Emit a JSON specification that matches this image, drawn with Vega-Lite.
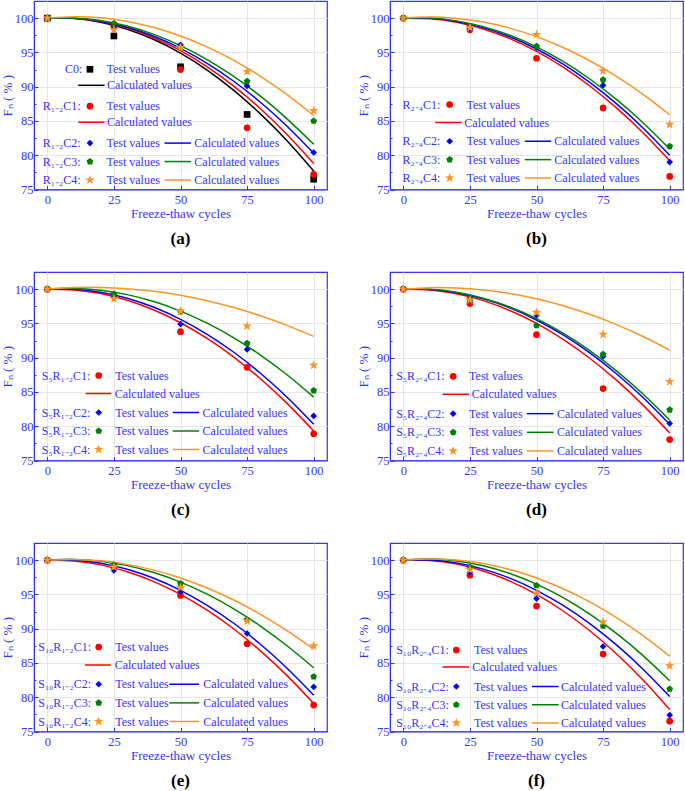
{
"$schema": "https://vega.github.io/schema/vega-lite/v6.json",
"padding": {"left": 0, "top": 0, "right": 1, "bottom": 0},
"config": {
  "font": "Liberation Serif",
  "view": {"stroke": "#3333FF", "strokeWidth": 1.2},
  "axis": {"domainColor": "#3333FF", "tickColor": "#3333FF", "labelColor": "#3333FF", "titleColor": "#3333FF", "labelFont": "Liberation Serif", "titleFont": "Liberation Serif", "labelFontSize": 12.5, "titleFontSize": 13, "titleFontWeight": "normal", "gridColor": "#e6e6e6", "tickSize": -4},
  "axisX": {"titlePadding": 1, "labelPadding": 8},
  "axisY": {"titlePadding": 0, "labelPadding": 5},
  "title": {"orient": "bottom", "font": "Liberation Serif", "fontSize": 17, "fontWeight": "bold", "color": "#000000", "offset": 11},
  "text": {"font": "Liberation Serif", "fontSize": 12, "color": "#3333FF", "baseline": "middle"}
},
"datasets": {
"test": [
{"p":"a","s":"C0","n":0,"f":100},{"p":"a","s":"C0","n":25,"f":97.4},{"p":"a","s":"C0","n":50,"f":92.9},{"p":"a","s":"C0","n":75,"f":85.95},{"p":"a","s":"C0","n":100,"f":76.5},
{"p":"a","s":"C1","n":0,"f":100},{"p":"a","s":"C1","n":25,"f":98.8},{"p":"a","s":"C1","n":50,"f":92.5},{"p":"a","s":"C1","n":75,"f":84.0},{"p":"a","s":"C1","n":100,"f":77.2},
{"p":"a","s":"C2","n":0,"f":100},{"p":"a","s":"C2","n":25,"f":98.9},{"p":"a","s":"C2","n":50,"f":96.1},{"p":"a","s":"C2","n":75,"f":90.1},{"p":"a","s":"C2","n":100,"f":80.4},
{"p":"a","s":"C3","n":0,"f":100},{"p":"a","s":"C3","n":25,"f":99.2},{"p":"a","s":"C3","n":50,"f":95.8},{"p":"a","s":"C3","n":75,"f":90.8},{"p":"a","s":"C3","n":100,"f":85.0},
{"p":"a","s":"C4","n":0,"f":100},{"p":"a","s":"C4","n":25,"f":98.3},{"p":"a","s":"C4","n":50,"f":95.7},{"p":"a","s":"C4","n":75,"f":92.2},{"p":"a","s":"C4","n":100,"f":86.5},
{"p":"b","s":"C1","n":0,"f":100},{"p":"b","s":"C1","n":25,"f":98.3},{"p":"b","s":"C1","n":50,"f":94.15},{"p":"b","s":"C1","n":75,"f":86.9},{"p":"b","s":"C1","n":100,"f":76.9},
{"p":"b","s":"C2","n":0,"f":100},{"p":"b","s":"C2","n":25,"f":98.5},{"p":"b","s":"C2","n":50,"f":95.7},{"p":"b","s":"C2","n":75,"f":90.2},{"p":"b","s":"C2","n":100,"f":79.0},
{"p":"b","s":"C3","n":0,"f":100},{"p":"b","s":"C3","n":25,"f":98.8},{"p":"b","s":"C3","n":50,"f":95.9},{"p":"b","s":"C3","n":75,"f":91.0},{"p":"b","s":"C3","n":100,"f":81.3},
{"p":"b","s":"C4","n":0,"f":100},{"p":"b","s":"C4","n":25,"f":98.6},{"p":"b","s":"C4","n":50,"f":97.6},{"p":"b","s":"C4","n":75,"f":92.3},{"p":"b","s":"C4","n":100,"f":84.5},
{"p":"c","s":"C1","n":0,"f":100},{"p":"c","s":"C1","n":25,"f":99.0},{"p":"c","s":"C1","n":50,"f":93.8},{"p":"c","s":"C1","n":75,"f":88.6},{"p":"c","s":"C1","n":100,"f":78.9},
{"p":"c","s":"C2","n":0,"f":100},{"p":"c","s":"C2","n":25,"f":99.1},{"p":"c","s":"C2","n":50,"f":94.9},{"p":"c","s":"C2","n":75,"f":91.2},{"p":"c","s":"C2","n":100,"f":81.5},
{"p":"c","s":"C3","n":0,"f":100},{"p":"c","s":"C3","n":25,"f":99.3},{"p":"c","s":"C3","n":50,"f":96.7},{"p":"c","s":"C3","n":75,"f":92.1},{"p":"c","s":"C3","n":100,"f":85.2},
{"p":"c","s":"C4","n":0,"f":100},{"p":"c","s":"C4","n":25,"f":98.6},{"p":"c","s":"C4","n":50,"f":96.8},{"p":"c","s":"C4","n":75,"f":94.6},{"p":"c","s":"C4","n":100,"f":88.9},
{"p":"d","s":"C1","n":0,"f":100},{"p":"d","s":"C1","n":25,"f":97.9},{"p":"d","s":"C1","n":50,"f":93.35},{"p":"d","s":"C1","n":75,"f":85.5},{"p":"d","s":"C1","n":100,"f":78.05},
{"p":"d","s":"C2","n":0,"f":100},{"p":"d","s":"C2","n":25,"f":98.4},{"p":"d","s":"C2","n":50,"f":96.2},{"p":"d","s":"C2","n":75,"f":90.2},{"p":"d","s":"C2","n":100,"f":80.4},
{"p":"d","s":"C3","n":0,"f":100},{"p":"d","s":"C3","n":25,"f":98.6},{"p":"d","s":"C3","n":50,"f":94.7},{"p":"d","s":"C3","n":75,"f":90.5},{"p":"d","s":"C3","n":100,"f":82.4},
{"p":"d","s":"C4","n":0,"f":100},{"p":"d","s":"C4","n":25,"f":98.4},{"p":"d","s":"C4","n":50,"f":96.6},{"p":"d","s":"C4","n":75,"f":93.4},{"p":"d","s":"C4","n":100,"f":86.5},
{"p":"e","s":"C1","n":0,"f":100},{"p":"e","s":"C1","n":25,"f":98.9},{"p":"e","s":"C1","n":50,"f":94.85},{"p":"e","s":"C1","n":75,"f":87.8},{"p":"e","s":"C1","n":100,"f":78.85},
{"p":"e","s":"C2","n":0,"f":100},{"p":"e","s":"C2","n":25,"f":98.5},{"p":"e","s":"C2","n":50,"f":95.4},{"p":"e","s":"C2","n":75,"f":89.3},{"p":"e","s":"C2","n":100,"f":81.5},
{"p":"e","s":"C3","n":0,"f":100},{"p":"e","s":"C3","n":25,"f":99.3},{"p":"e","s":"C3","n":50,"f":96.6},{"p":"e","s":"C3","n":75,"f":91.3},{"p":"e","s":"C3","n":100,"f":83.0},
{"p":"e","s":"C4","n":0,"f":100},{"p":"e","s":"C4","n":25,"f":99.0},{"p":"e","s":"C4","n":50,"f":96.0},{"p":"e","s":"C4","n":75,"f":91.1},{"p":"e","s":"C4","n":100,"f":87.5},
{"p":"f","s":"C1","n":0,"f":100},{"p":"f","s":"C1","n":25,"f":97.8},{"p":"f","s":"C1","n":50,"f":93.3},{"p":"f","s":"C1","n":75,"f":86.3},{"p":"f","s":"C1","n":100,"f":76.5},
{"p":"f","s":"C2","n":0,"f":100},{"p":"f","s":"C2","n":25,"f":98.2},{"p":"f","s":"C2","n":50,"f":94.4},{"p":"f","s":"C2","n":75,"f":87.4},{"p":"f","s":"C2","n":100,"f":77.4},
{"p":"f","s":"C3","n":0,"f":100},{"p":"f","s":"C3","n":25,"f":99.0},{"p":"f","s":"C3","n":50,"f":96.3},{"p":"f","s":"C3","n":75,"f":90.4},{"p":"f","s":"C3","n":100,"f":81.2},
{"p":"f","s":"C4","n":0,"f":100},{"p":"f","s":"C4","n":25,"f":98.6},{"p":"f","s":"C4","n":50,"f":95.2},{"p":"f","s":"C4","n":75,"f":91.0},{"p":"f","s":"C4","n":100,"f":84.6}
],
"calc": [
{"p":"a","s":"C0","n":0,"f":100},{"p":"a","s":"C0","n":10,"f":99.95},{"p":"a","s":"C0","n":20,"f":99.41},{"p":"a","s":"C0","n":30,"f":98.39},{"p":"a","s":"C0","n":40,"f":96.89},{"p":"a","s":"C0","n":50,"f":94.9},{"p":"a","s":"C0","n":60,"f":92.43},{"p":"a","s":"C0","n":70,"f":89.47},{"p":"a","s":"C0","n":80,"f":86.03},{"p":"a","s":"C0","n":90,"f":82.11},{"p":"a","s":"C0","n":100,"f":77.7},
{"p":"a","s":"C1","n":0,"f":100},{"p":"a","s":"C1","n":10,"f":99.99},{"p":"a","s":"C1","n":20,"f":99.5},{"p":"a","s":"C1","n":30,"f":98.55},{"p":"a","s":"C1","n":40,"f":97.14},{"p":"a","s":"C1","n":50,"f":95.25},{"p":"a","s":"C1","n":60,"f":92.9},{"p":"a","s":"C1","n":70,"f":90.07},{"p":"a","s":"C1","n":80,"f":86.78},{"p":"a","s":"C1","n":90,"f":83.03},{"p":"a","s":"C1","n":100,"f":78.8},
{"p":"a","s":"C2","n":0,"f":100},{"p":"a","s":"C2","n":10,"f":99.99},{"p":"a","s":"C2","n":20,"f":99.55},{"p":"a","s":"C2","n":30,"f":98.67},{"p":"a","s":"C2","n":40,"f":97.35},{"p":"a","s":"C2","n":50,"f":95.6},{"p":"a","s":"C2","n":60,"f":93.41},{"p":"a","s":"C2","n":70,"f":90.79},{"p":"a","s":"C2","n":80,"f":87.73},{"p":"a","s":"C2","n":90,"f":84.23},{"p":"a","s":"C2","n":100,"f":80.3},
{"p":"a","s":"C3","n":0,"f":100},{"p":"a","s":"C3","n":10,"f":100.03},{"p":"a","s":"C3","n":20,"f":99.65},{"p":"a","s":"C3","n":30,"f":98.85},{"p":"a","s":"C3","n":40,"f":97.63},{"p":"a","s":"C3","n":50,"f":96.0},{"p":"a","s":"C3","n":60,"f":93.95},{"p":"a","s":"C3","n":70,"f":91.49},{"p":"a","s":"C3","n":80,"f":88.61},{"p":"a","s":"C3","n":90,"f":85.31},{"p":"a","s":"C3","n":100,"f":81.6},
{"p":"a","s":"C4","n":0,"f":100},{"p":"a","s":"C4","n":10,"f":100.2},{"p":"a","s":"C4","n":20,"f":100.04},{"p":"a","s":"C4","n":30,"f":99.52},{"p":"a","s":"C4","n":40,"f":98.64},{"p":"a","s":"C4","n":50,"f":97.4},{"p":"a","s":"C4","n":60,"f":95.8},{"p":"a","s":"C4","n":70,"f":93.84},{"p":"a","s":"C4","n":80,"f":91.52},{"p":"a","s":"C4","n":90,"f":88.84},{"p":"a","s":"C4","n":100,"f":85.8},
{"p":"b","s":"C1","n":0,"f":100},{"p":"b","s":"C1","n":10,"f":99.92},{"p":"b","s":"C1","n":20,"f":99.39},{"p":"b","s":"C1","n":30,"f":98.42},{"p":"b","s":"C1","n":40,"f":97.01},{"p":"b","s":"C1","n":50,"f":95.15},{"p":"b","s":"C1","n":60,"f":92.85},{"p":"b","s":"C1","n":70,"f":90.1},{"p":"b","s":"C1","n":80,"f":86.91},{"p":"b","s":"C1","n":90,"f":83.28},{"p":"b","s":"C1","n":100,"f":79.2},
{"p":"b","s":"C2","n":0,"f":100},{"p":"b","s":"C2","n":10,"f":99.98},{"p":"b","s":"C2","n":20,"f":99.52},{"p":"b","s":"C2","n":30,"f":98.62},{"p":"b","s":"C2","n":40,"f":97.28},{"p":"b","s":"C2","n":50,"f":95.5},{"p":"b","s":"C2","n":60,"f":93.28},{"p":"b","s":"C2","n":70,"f":90.62},{"p":"b","s":"C2","n":80,"f":87.52},{"p":"b","s":"C2","n":90,"f":83.98},{"p":"b","s":"C2","n":100,"f":80.0},
{"p":"b","s":"C3","n":0,"f":100},{"p":"b","s":"C3","n":10,"f":100.02},{"p":"b","s":"C3","n":20,"f":99.6},{"p":"b","s":"C3","n":30,"f":98.76},{"p":"b","s":"C3","n":40,"f":97.5},{"p":"b","s":"C3","n":50,"f":95.8},{"p":"b","s":"C3","n":60,"f":93.68},{"p":"b","s":"C3","n":70,"f":91.12},{"p":"b","s":"C3","n":80,"f":88.14},{"p":"b","s":"C3","n":90,"f":84.74},{"p":"b","s":"C3","n":100,"f":80.9},
{"p":"b","s":"C4","n":0,"f":100},{"p":"b","s":"C4","n":10,"f":100.16},{"p":"b","s":"C4","n":20,"f":99.96},{"p":"b","s":"C4","n":30,"f":99.42},{"p":"b","s":"C4","n":40,"f":98.54},{"p":"b","s":"C4","n":50,"f":97.3},{"p":"b","s":"C4","n":60,"f":95.72},{"p":"b","s":"C4","n":70,"f":93.78},{"p":"b","s":"C4","n":80,"f":91.5},{"p":"b","s":"C4","n":90,"f":88.88},{"p":"b","s":"C4","n":100,"f":85.9},
{"p":"c","s":"C1","n":0,"f":100},{"p":"c","s":"C1","n":10,"f":99.89},{"p":"c","s":"C1","n":20,"f":99.35},{"p":"c","s":"C1","n":30,"f":98.37},{"p":"c","s":"C1","n":40,"f":96.95},{"p":"c","s":"C1","n":50,"f":95.1},{"p":"c","s":"C1","n":60,"f":92.81},{"p":"c","s":"C1","n":70,"f":90.09},{"p":"c","s":"C1","n":80,"f":86.93},{"p":"c","s":"C1","n":90,"f":83.33},{"p":"c","s":"C1","n":100,"f":79.3},
{"p":"c","s":"C2","n":0,"f":100},{"p":"c","s":"C2","n":10,"f":99.99},{"p":"c","s":"C2","n":20,"f":99.55},{"p":"c","s":"C2","n":30,"f":98.67},{"p":"c","s":"C2","n":40,"f":97.35},{"p":"c","s":"C2","n":50,"f":95.6},{"p":"c","s":"C2","n":60,"f":93.41},{"p":"c","s":"C2","n":70,"f":90.79},{"p":"c","s":"C2","n":80,"f":87.73},{"p":"c","s":"C2","n":90,"f":84.23},{"p":"c","s":"C2","n":100,"f":80.3},
{"p":"c","s":"C3","n":0,"f":100},{"p":"c","s":"C3","n":10,"f":100.11},{"p":"c","s":"C3","n":20,"f":99.84},{"p":"c","s":"C3","n":30,"f":99.2},{"p":"c","s":"C3","n":40,"f":98.19},{"p":"c","s":"C3","n":50,"f":96.8},{"p":"c","s":"C3","n":60,"f":95.04},{"p":"c","s":"C3","n":70,"f":92.9},{"p":"c","s":"C3","n":80,"f":90.39},{"p":"c","s":"C3","n":90,"f":87.51},{"p":"c","s":"C3","n":100,"f":84.25},
{"p":"c","s":"C4","n":0,"f":100},{"p":"c","s":"C4","n":10,"f":100.23},{"p":"c","s":"C4","n":20,"f":100.25},{"p":"c","s":"C4","n":30,"f":100.07},{"p":"c","s":"C4","n":40,"f":99.69},{"p":"c","s":"C4","n":50,"f":99.1},{"p":"c","s":"C4","n":60,"f":98.31},{"p":"c","s":"C4","n":70,"f":97.31},{"p":"c","s":"C4","n":80,"f":96.11},{"p":"c","s":"C4","n":90,"f":94.71},{"p":"c","s":"C4","n":100,"f":93.1},
{"p":"d","s":"C1","n":0,"f":100},{"p":"d","s":"C1","n":10,"f":99.88},{"p":"d","s":"C1","n":20,"f":99.32},{"p":"d","s":"C1","n":30,"f":98.32},{"p":"d","s":"C1","n":40,"f":96.88},{"p":"d","s":"C1","n":50,"f":95.0},{"p":"d","s":"C1","n":60,"f":92.68},{"p":"d","s":"C1","n":70,"f":89.92},{"p":"d","s":"C1","n":80,"f":86.72},{"p":"d","s":"C1","n":90,"f":83.08},{"p":"d","s":"C1","n":100,"f":79.0},
{"p":"d","s":"C2","n":0,"f":100},{"p":"d","s":"C2","n":10,"f":99.96},{"p":"d","s":"C2","n":20,"f":99.48},{"p":"d","s":"C2","n":30,"f":98.58},{"p":"d","s":"C2","n":40,"f":97.26},{"p":"d","s":"C2","n":50,"f":95.5},{"p":"d","s":"C2","n":60,"f":93.32},{"p":"d","s":"C2","n":70,"f":90.7},{"p":"d","s":"C2","n":80,"f":87.66},{"p":"d","s":"C2","n":90,"f":84.2},{"p":"d","s":"C2","n":100,"f":80.3},
{"p":"d","s":"C3","n":0,"f":100},{"p":"d","s":"C3","n":10,"f":99.98},{"p":"d","s":"C3","n":20,"f":99.54},{"p":"d","s":"C3","n":30,"f":98.68},{"p":"d","s":"C3","n":40,"f":97.4},{"p":"d","s":"C3","n":50,"f":95.7},{"p":"d","s":"C3","n":60,"f":93.58},{"p":"d","s":"C3","n":70,"f":91.04},{"p":"d","s":"C3","n":80,"f":88.08},{"p":"d","s":"C3","n":90,"f":84.7},{"p":"d","s":"C3","n":100,"f":80.9},
{"p":"d","s":"C4","n":0,"f":100},{"p":"d","s":"C4","n":10,"f":100.21},{"p":"d","s":"C4","n":20,"f":100.17},{"p":"d","s":"C4","n":30,"f":99.89},{"p":"d","s":"C4","n":40,"f":99.37},{"p":"d","s":"C4","n":50,"f":98.6},{"p":"d","s":"C4","n":60,"f":97.59},{"p":"d","s":"C4","n":70,"f":96.33},{"p":"d","s":"C4","n":80,"f":94.83},{"p":"d","s":"C4","n":90,"f":93.09},{"p":"d","s":"C4","n":100,"f":91.1},
{"p":"e","s":"C1","n":0,"f":100},{"p":"e","s":"C1","n":10,"f":99.87},{"p":"e","s":"C1","n":20,"f":99.31},{"p":"e","s":"C1","n":30,"f":98.31},{"p":"e","s":"C1","n":40,"f":96.87},{"p":"e","s":"C1","n":50,"f":95.0},{"p":"e","s":"C1","n":60,"f":92.69},{"p":"e","s":"C1","n":70,"f":89.95},{"p":"e","s":"C1","n":80,"f":86.77},{"p":"e","s":"C1","n":90,"f":83.15},{"p":"e","s":"C1","n":100,"f":79.1},
{"p":"e","s":"C2","n":0,"f":100},{"p":"e","s":"C2","n":10,"f":99.99},{"p":"e","s":"C2","n":20,"f":99.55},{"p":"e","s":"C2","n":30,"f":98.67},{"p":"e","s":"C2","n":40,"f":97.35},{"p":"e","s":"C2","n":50,"f":95.6},{"p":"e","s":"C2","n":60,"f":93.41},{"p":"e","s":"C2","n":70,"f":90.79},{"p":"e","s":"C2","n":80,"f":87.73},{"p":"e","s":"C2","n":90,"f":84.23},{"p":"e","s":"C2","n":100,"f":80.3},
{"p":"e","s":"C3","n":0,"f":100},{"p":"e","s":"C3","n":10,"f":100.11},{"p":"e","s":"C3","n":20,"f":99.84},{"p":"e","s":"C3","n":30,"f":99.2},{"p":"e","s":"C3","n":40,"f":98.19},{"p":"e","s":"C3","n":50,"f":96.8},{"p":"e","s":"C3","n":60,"f":95.04},{"p":"e","s":"C3","n":70,"f":92.9},{"p":"e","s":"C3","n":80,"f":90.39},{"p":"e","s":"C3","n":90,"f":87.51},{"p":"e","s":"C3","n":100,"f":84.3},
{"p":"e","s":"C4","n":0,"f":100},{"p":"e","s":"C4","n":10,"f":100.1},{"p":"e","s":"C4","n":20,"f":99.9},{"p":"e","s":"C4","n":30,"f":99.38},{"p":"e","s":"C4","n":40,"f":98.54},{"p":"e","s":"C4","n":50,"f":97.4},{"p":"e","s":"C4","n":60,"f":95.94},{"p":"e","s":"C4","n":70,"f":94.18},{"p":"e","s":"C4","n":80,"f":92.1},{"p":"e","s":"C4","n":90,"f":89.7},{"p":"e","s":"C4","n":100,"f":87.0},
{"p":"f","s":"C1","n":0,"f":100},{"p":"f","s":"C1","n":10,"f":99.94},{"p":"f","s":"C1","n":20,"f":99.42},{"p":"f","s":"C1","n":30,"f":98.42},{"p":"f","s":"C1","n":40,"f":96.94},{"p":"f","s":"C1","n":50,"f":95.0},{"p":"f","s":"C1","n":60,"f":92.58},{"p":"f","s":"C1","n":70,"f":89.7},{"p":"f","s":"C1","n":80,"f":86.34},{"p":"f","s":"C1","n":90,"f":82.5},{"p":"f","s":"C1","n":100,"f":78.2},
{"p":"f","s":"C2","n":0,"f":100},{"p":"f","s":"C2","n":10,"f":100.01},{"p":"f","s":"C2","n":20,"f":99.57},{"p":"f","s":"C2","n":30,"f":98.69},{"p":"f","s":"C2","n":40,"f":97.37},{"p":"f","s":"C2","n":50,"f":95.6},{"p":"f","s":"C2","n":60,"f":93.39},{"p":"f","s":"C2","n":70,"f":90.73},{"p":"f","s":"C2","n":80,"f":87.63},{"p":"f","s":"C2","n":90,"f":84.09},{"p":"f","s":"C2","n":100,"f":80.1},
{"p":"f","s":"C3","n":0,"f":100},{"p":"f","s":"C3","n":10,"f":100.15},{"p":"f","s":"C3","n":20,"f":99.87},{"p":"f","s":"C3","n":30,"f":99.17},{"p":"f","s":"C3","n":40,"f":98.05},{"p":"f","s":"C3","n":50,"f":96.5},{"p":"f","s":"C3","n":60,"f":94.53},{"p":"f","s":"C3","n":70,"f":92.13},{"p":"f","s":"C3","n":80,"f":89.31},{"p":"f","s":"C3","n":90,"f":86.07},{"p":"f","s":"C3","n":100,"f":82.4},
{"p":"f","s":"C4","n":0,"f":100},{"p":"f","s":"C4","n":10,"f":100.18},{"p":"f","s":"C4","n":20,"f":100.02},{"p":"f","s":"C4","n":30,"f":99.5},{"p":"f","s":"C4","n":40,"f":98.62},{"p":"f","s":"C4","n":50,"f":97.4},{"p":"f","s":"C4","n":60,"f":95.82},{"p":"f","s":"C4","n":70,"f":93.9},{"p":"f","s":"C4","n":80,"f":91.62},{"p":"f","s":"C4","n":90,"f":88.98},{"p":"f","s":"C4","n":100,"f":86.0}
],
"leg": [
{"p":"a","s":"C0","label":"C0:"},{"p":"a","s":"C1","label":"R₁₋₂C1:"},{"p":"a","s":"C2","label":"R₁₋₂C2:"},{"p":"a","s":"C3","label":"R₁₋₂C3:"},{"p":"a","s":"C4","label":"R₁₋₂C4:"},
{"p":"b","s":"C1","label":"R₂₋₄C1:"},{"p":"b","s":"C2","label":"R₂₋₄C2:"},{"p":"b","s":"C3","label":"R₂₋₄C3:"},{"p":"b","s":"C4","label":"R₂₋₄C4:"},
{"p":"c","s":"C1","label":"S₅R₁₋₂C1:"},{"p":"c","s":"C2","label":"S₅R₁₋₂C2:"},{"p":"c","s":"C3","label":"S₅R₁₋₂C3:"},{"p":"c","s":"C4","label":"S₅R₁₋₂C4:"},
{"p":"d","s":"C1","label":"S₅R₂₋₄C1:"},{"p":"d","s":"C2","label":"S₅R₂₋₄C2:"},{"p":"d","s":"C3","label":"S₅R₂₋₄C3:"},{"p":"d","s":"C4","label":"S₅R₂₋₄C4:"},
{"p":"e","s":"C1","label":"S₁₀R₁₋₂C1:"},{"p":"e","s":"C2","label":"S₁₀R₁₋₂C2:"},{"p":"e","s":"C3","label":"S₁₀R₁₋₂C3:"},{"p":"e","s":"C4","label":"S₁₀R₁₋₂C4:"},
{"p":"f","s":"C1","label":"S₁₀R₂₋₄C1:"},{"p":"f","s":"C2","label":"S₁₀R₂₋₄C2:"},{"p":"f","s":"C3","label":"S₁₀R₂₋₄C3:"},{"p":"f","s":"C4","label":"S₁₀R₂₋₄C4:"}
]
},
"spacing": 23,
"vconcat": [
{"spacing": 28, "hconcat": [
{"width": 293, "height": 188.5, "title": {"text": "(a)"}, "resolve": {"scale": {"y": "independent"}},
 "layer": [
  {"encoding": {
     "x": {"field": "n", "type": "quantitative", "scale": {"domain": [-5, 105], "nice": false, "zero": false}, "axis": {"values": [0, 12.5, 25, 37.5, 50, 62.5, 75, 87.5, 100], "labelExpr": "datum.value % 25 === 0 ? datum.label : ''", "tickSize": {"condition": {"test": "datum.value % 25 !== 0", "value": -2}, "value": -4}, "gridOpacity": {"condition": {"test": "datum.value % 25 !== 0", "value": 0}, "value": 1}, "title": "Freeze-thaw cycles"}},
     "y": {"field": "f", "type": "quantitative", "scale": {"domain": [75, 102.5], "nice": false, "zero": false}, "axis": {"values": [75, 77.5, 80, 82.5, 85, 87.5, 90, 92.5, 95, 97.5, 100], "labelExpr": "datum.value % 5 === 0 ? datum.label : ''", "tickSize": {"condition": {"test": "datum.value % 5 !== 0", "value": -2}, "value": -4}, "gridOpacity": {"condition": {"test": "datum.value % 5 !== 0", "value": 0}, "value": 1}, "title": "Fₙ ( % )"}},
     "color": {"field": "s", "type": "nominal", "scale": {"domain": ["C0","C1","C2","C3","C4"], "range": ["#000000","#FF0000","#0000FF","#008000","#FF9326"]}, "legend": null}},
   "layer": [
    {"data": {"name": "calc"}, "transform": [{"filter": "datum.p === 'a'"}], "mark": {"type": "line", "interpolate": "natural", "strokeWidth": 1.5}},
    {"data": {"name": "test"}, "transform": [{"filter": "datum.p === 'a'"}], "mark": {"type": "point", "filled": true, "opacity": 1, "size": 45},
     "encoding": {"shape": {"field": "s", "type": "nominal", "scale": {"domain": ["C0","C1","C2","C3","C4"], "range": ["square","circle","diamond","M0,-1.05L1,-0.32L0.62,0.85L-0.62,0.85L-1,-0.32Z","M0,-1.5L0.353,-0.485L1.427,-0.464L0.571,0.185L0.882,1.214L0,0.6L-0.882,1.214L-0.571,0.185L-1.427,-0.464L-0.353,-0.485Z"]}, "legend": null}}}
   ]},
  {"data": {"name": "leg"}, "transform": [{"filter": "datum.p === 'a'"}],
   "encoding": {"y": {"field": "s", "type": "nominal", "scale": {"type": "point", "padding": 0, "domain": ["C0","C0x","C1","C1x","C2","C3","C4"], "range": [68.3, 179]}, "axis": null}},
   "layer": [
    {"transform": [{"filter": "datum.s !== 'C0'"}], "mark": {"type": "text", "align": "left"}, "encoding": {"x": {"datum": -1.7}, "text": {"field": "label"}}},
    {"transform": [{"filter": "datum.s === 'C0'"}], "mark": {"type": "text", "align": "left"}, "encoding": {"x": {"datum": 6.6}, "text": {"field": "label"}}},
    {"mark": {"type": "point", "filled": true, "opacity": 1, "size": 45}, "encoding": {"x": {"datum": 16.0},
      "color": {"field": "s", "type": "nominal", "scale": {"domain": ["C0","C1","C2","C3","C4"], "range": ["#000000","#FF0000","#0000FF","#008000","#FF9326"]}, "legend": null},
      "shape": {"field": "s", "type": "nominal", "scale": {"domain": ["C0","C1","C2","C3","C4"], "range": ["square","circle","diamond","M0,-1.05L1,-0.32L0.62,0.85L-0.62,0.85L-1,-0.32Z","M0,-1.5L0.353,-0.485L1.427,-0.464L0.571,0.185L0.882,1.214L0,0.6L-0.882,1.214L-0.571,0.185L-1.427,-0.464L-0.353,-0.485Z"]}, "legend": null}}},
    {"mark": {"type": "text", "align": "left", "text": "Test values"}, "encoding": {"x": {"datum": 22.2}}},
    {"transform": [{"filter": "datum.s === 'C0' || datum.s === 'C1'"}], "mark": {"type": "rule", "yOffset": 16, "strokeWidth": 1.5}, "encoding": {"x": {"datum": 11.6}, "x2": {"datum": 21.5}, "color": {"field": "s", "type": "nominal", "scale": {"domain": ["C0","C1","C2","C3","C4"], "range": ["#000000","#FF0000","#0000FF","#008000","#FF9326"]}, "legend": null}}},
    {"transform": [{"filter": "datum.s === 'C0' || datum.s === 'C1'"}], "mark": {"type": "text", "align": "left", "text": "Calculated values", "yOffset": 16}, "encoding": {"x": {"datum": 22.4}}},
    {"transform": [{"filter": "datum.s === 'C2' || datum.s === 'C3' || datum.s === 'C4'"}], "mark": {"type": "rule", "strokeWidth": 1.5}, "encoding": {"x": {"datum": 44.0}, "x2": {"datum": 53.9}, "color": {"field": "s", "type": "nominal", "scale": {"domain": ["C0","C1","C2","C3","C4"], "range": ["#000000","#FF0000","#0000FF","#008000","#FF9326"]}, "legend": null}}},
    {"transform": [{"filter": "datum.s === 'C2' || datum.s === 'C3' || datum.s === 'C4'"}], "mark": {"type": "text", "align": "left", "text": "Calculated values"}, "encoding": {"x": {"datum": 55.2}}}
   ]}
 ]},
{"width": 293, "height": 188.5, "title": {"text": "(b)"}, "resolve": {"scale": {"y": "independent"}},
 "layer": [
  {"encoding": {
     "x": {"field": "n", "type": "quantitative", "scale": {"domain": [-5, 105], "nice": false, "zero": false}, "axis": {"values": [0, 12.5, 25, 37.5, 50, 62.5, 75, 87.5, 100], "labelExpr": "datum.value % 25 === 0 ? datum.label : ''", "tickSize": {"condition": {"test": "datum.value % 25 !== 0", "value": -2}, "value": -4}, "gridOpacity": {"condition": {"test": "datum.value % 25 !== 0", "value": 0}, "value": 1}, "title": "Freeze-thaw cycles"}},
     "y": {"field": "f", "type": "quantitative", "scale": {"domain": [75, 102.5], "nice": false, "zero": false}, "axis": {"values": [75, 77.5, 80, 82.5, 85, 87.5, 90, 92.5, 95, 97.5, 100], "labelExpr": "datum.value % 5 === 0 ? datum.label : ''", "tickSize": {"condition": {"test": "datum.value % 5 !== 0", "value": -2}, "value": -4}, "gridOpacity": {"condition": {"test": "datum.value % 5 !== 0", "value": 0}, "value": 1}, "title": "Fₙ ( % )"}},
     "color": {"field": "s", "type": "nominal", "scale": {"domain": ["C0","C1","C2","C3","C4"], "range": ["#000000","#FF0000","#0000FF","#008000","#FF9326"]}, "legend": null}},
   "layer": [
    {"data": {"name": "calc"}, "transform": [{"filter": "datum.p === 'b'"}], "mark": {"type": "line", "interpolate": "natural", "strokeWidth": 1.5}},
    {"data": {"name": "test"}, "transform": [{"filter": "datum.p === 'b'"}], "mark": {"type": "point", "filled": true, "opacity": 1, "size": 45},
     "encoding": {"shape": {"field": "s", "type": "nominal", "scale": {"domain": ["C0","C1","C2","C3","C4"], "range": ["square","circle","diamond","M0,-1.05L1,-0.32L0.62,0.85L-0.62,0.85L-1,-0.32Z","M0,-1.5L0.353,-0.485L1.427,-0.464L0.571,0.185L0.882,1.214L0,0.6L-0.882,1.214L-0.571,0.185L-1.427,-0.464L-0.353,-0.485Z"]}, "legend": null}}}
   ]},
  {"data": {"name": "leg"}, "transform": [{"filter": "datum.p === 'b'"}],
   "encoding": {"y": {"field": "s", "type": "nominal", "scale": {"type": "point", "padding": 0, "domain": ["C1","C1x","C2","C3","C4"], "range": [103.5, 177]}, "axis": null}},
   "layer": [
    {"mark": {"type": "text", "align": "left"}, "encoding": {"x": {"datum": -0.3}, "text": {"field": "label"}}},
    {"mark": {"type": "point", "filled": true, "opacity": 1, "size": 45}, "encoding": {"x": {"datum": 17.4},
      "color": {"field": "s", "type": "nominal", "scale": {"domain": ["C0","C1","C2","C3","C4"], "range": ["#000000","#FF0000","#0000FF","#008000","#FF9326"]}, "legend": null},
      "shape": {"field": "s", "type": "nominal", "scale": {"domain": ["C0","C1","C2","C3","C4"], "range": ["square","circle","diamond","M0,-1.05L1,-0.32L0.62,0.85L-0.62,0.85L-1,-0.32Z","M0,-1.5L0.353,-0.485L1.427,-0.464L0.571,0.185L0.882,1.214L0,0.6L-0.882,1.214L-0.571,0.185L-1.427,-0.464L-0.353,-0.485Z"]}, "legend": null}}},
    {"mark": {"type": "text", "align": "left", "text": "Test values"}, "encoding": {"x": {"datum": 23.7}}},
    {"transform": [{"filter": "datum.s === 'C1'"}], "mark": {"type": "rule", "yOffset": 18, "strokeWidth": 1.5}, "encoding": {"x": {"datum": 12.0}, "x2": {"datum": 21.9}, "color": {"field": "s", "type": "nominal", "scale": {"domain": ["C0","C1","C2","C3","C4"], "range": ["#000000","#FF0000","#0000FF","#008000","#FF9326"]}, "legend": null}}},
    {"transform": [{"filter": "datum.s === 'C1'"}], "mark": {"type": "text", "align": "left", "text": "Calculated values", "yOffset": 18}, "encoding": {"x": {"datum": 22.9}}},
    {"transform": [{"filter": "datum.s !== 'C1'"}], "mark": {"type": "rule", "strokeWidth": 1.5}, "encoding": {"x": {"datum": 45.6}, "x2": {"datum": 55.5}, "color": {"field": "s", "type": "nominal", "scale": {"domain": ["C0","C1","C2","C3","C4"], "range": ["#000000","#FF0000","#0000FF","#008000","#FF9326"]}, "legend": null}}},
    {"transform": [{"filter": "datum.s !== 'C1'"}], "mark": {"type": "text", "align": "left", "text": "Calculated values"}, "encoding": {"x": {"datum": 56.7}}}
   ]}
 ]}
]},
{"spacing": 28, "hconcat": [
{"width": 293, "height": 188.5, "title": {"text": "(c)"}, "resolve": {"scale": {"y": "independent"}},
 "layer": [
  {"encoding": {
     "x": {"field": "n", "type": "quantitative", "scale": {"domain": [-5, 105], "nice": false, "zero": false}, "axis": {"values": [0, 12.5, 25, 37.5, 50, 62.5, 75, 87.5, 100], "labelExpr": "datum.value % 25 === 0 ? datum.label : ''", "tickSize": {"condition": {"test": "datum.value % 25 !== 0", "value": -2}, "value": -4}, "gridOpacity": {"condition": {"test": "datum.value % 25 !== 0", "value": 0}, "value": 1}, "title": "Freeze-thaw cycles"}},
     "y": {"field": "f", "type": "quantitative", "scale": {"domain": [75, 102.5], "nice": false, "zero": false}, "axis": {"values": [75, 77.5, 80, 82.5, 85, 87.5, 90, 92.5, 95, 97.5, 100], "labelExpr": "datum.value % 5 === 0 ? datum.label : ''", "tickSize": {"condition": {"test": "datum.value % 5 !== 0", "value": -2}, "value": -4}, "gridOpacity": {"condition": {"test": "datum.value % 5 !== 0", "value": 0}, "value": 1}, "title": "Fₙ ( % )"}},
     "color": {"field": "s", "type": "nominal", "scale": {"domain": ["C0","C1","C2","C3","C4"], "range": ["#000000","#FF0000","#0000FF","#008000","#FF9326"]}, "legend": null}},
   "layer": [
    {"data": {"name": "calc"}, "transform": [{"filter": "datum.p === 'c'"}], "mark": {"type": "line", "interpolate": "natural", "strokeWidth": 1.5}},
    {"data": {"name": "test"}, "transform": [{"filter": "datum.p === 'c'"}], "mark": {"type": "point", "filled": true, "opacity": 1, "size": 45},
     "encoding": {"shape": {"field": "s", "type": "nominal", "scale": {"domain": ["C0","C1","C2","C3","C4"], "range": ["square","circle","diamond","M0,-1.05L1,-0.32L0.62,0.85L-0.62,0.85L-1,-0.32Z","M0,-1.5L0.353,-0.485L1.427,-0.464L0.571,0.185L0.882,1.214L0,0.6L-0.882,1.214L-0.571,0.185L-1.427,-0.464L-0.353,-0.485Z"]}, "legend": null}}}
   ]},
  {"data": {"name": "leg"}, "transform": [{"filter": "datum.p === 'c'"}],
   "encoding": {"y": {"field": "s", "type": "nominal", "scale": {"type": "point", "padding": 0, "domain": ["C1","C1x","C2","C3","C4"], "range": [103.5, 177.5]}, "axis": null}},
   "layer": [
    {"mark": {"type": "text", "align": "left"}, "encoding": {"x": {"datum": -2.1}, "text": {"field": "label"}}},
    {"mark": {"type": "point", "filled": true, "opacity": 1, "size": 45}, "encoding": {"x": {"datum": 19.3},
      "color": {"field": "s", "type": "nominal", "scale": {"domain": ["C0","C1","C2","C3","C4"], "range": ["#000000","#FF0000","#0000FF","#008000","#FF9326"]}, "legend": null},
      "shape": {"field": "s", "type": "nominal", "scale": {"domain": ["C0","C1","C2","C3","C4"], "range": ["square","circle","diamond","M0,-1.05L1,-0.32L0.62,0.85L-0.62,0.85L-1,-0.32Z","M0,-1.5L0.353,-0.485L1.427,-0.464L0.571,0.185L0.882,1.214L0,0.6L-0.882,1.214L-0.571,0.185L-1.427,-0.464L-0.353,-0.485Z"]}, "legend": null}}},
    {"mark": {"type": "text", "align": "left", "text": "Test values"}, "encoding": {"x": {"datum": 25.5}}},
    {"transform": [{"filter": "datum.s === 'C1'"}], "mark": {"type": "rule", "yOffset": 18, "strokeWidth": 1.5}, "encoding": {"x": {"datum": 14.4}, "x2": {"datum": 24.0}, "color": {"field": "s", "type": "nominal", "scale": {"domain": ["C0","C1","C2","C3","C4"], "range": ["#000000","#FF0000","#0000FF","#008000","#FF9326"]}, "legend": null}}},
    {"transform": [{"filter": "datum.s === 'C1'"}], "mark": {"type": "text", "align": "left", "text": "Calculated values", "yOffset": 18}, "encoding": {"x": {"datum": 25.3}}},
    {"transform": [{"filter": "datum.s !== 'C1'"}], "mark": {"type": "rule", "strokeWidth": 1.5}, "encoding": {"x": {"datum": 47.1}, "x2": {"datum": 57.0}, "color": {"field": "s", "type": "nominal", "scale": {"domain": ["C0","C1","C2","C3","C4"], "range": ["#000000","#FF0000","#0000FF","#008000","#FF9326"]}, "legend": null}}},
    {"transform": [{"filter": "datum.s !== 'C1'"}], "mark": {"type": "text", "align": "left", "text": "Calculated values"}, "encoding": {"x": {"datum": 58.3}}}
   ]}
 ]},
{"width": 293, "height": 188.5, "title": {"text": "(d)"}, "resolve": {"scale": {"y": "independent"}},
 "layer": [
  {"encoding": {
     "x": {"field": "n", "type": "quantitative", "scale": {"domain": [-5, 105], "nice": false, "zero": false}, "axis": {"values": [0, 12.5, 25, 37.5, 50, 62.5, 75, 87.5, 100], "labelExpr": "datum.value % 25 === 0 ? datum.label : ''", "tickSize": {"condition": {"test": "datum.value % 25 !== 0", "value": -2}, "value": -4}, "gridOpacity": {"condition": {"test": "datum.value % 25 !== 0", "value": 0}, "value": 1}, "title": "Freeze-thaw cycles"}},
     "y": {"field": "f", "type": "quantitative", "scale": {"domain": [75, 102.5], "nice": false, "zero": false}, "axis": {"values": [75, 77.5, 80, 82.5, 85, 87.5, 90, 92.5, 95, 97.5, 100], "labelExpr": "datum.value % 5 === 0 ? datum.label : ''", "tickSize": {"condition": {"test": "datum.value % 5 !== 0", "value": -2}, "value": -4}, "gridOpacity": {"condition": {"test": "datum.value % 5 !== 0", "value": 0}, "value": 1}, "title": "Fₙ ( % )"}},
     "color": {"field": "s", "type": "nominal", "scale": {"domain": ["C0","C1","C2","C3","C4"], "range": ["#000000","#FF0000","#0000FF","#008000","#FF9326"]}, "legend": null}},
   "layer": [
    {"data": {"name": "calc"}, "transform": [{"filter": "datum.p === 'd'"}], "mark": {"type": "line", "interpolate": "natural", "strokeWidth": 1.5}},
    {"data": {"name": "test"}, "transform": [{"filter": "datum.p === 'd'"}], "mark": {"type": "point", "filled": true, "opacity": 1, "size": 45},
     "encoding": {"shape": {"field": "s", "type": "nominal", "scale": {"domain": ["C0","C1","C2","C3","C4"], "range": ["square","circle","diamond","M0,-1.05L1,-0.32L0.62,0.85L-0.62,0.85L-1,-0.32Z","M0,-1.5L0.353,-0.485L1.427,-0.464L0.571,0.185L0.882,1.214L0,0.6L-0.882,1.214L-0.571,0.185L-1.427,-0.464L-0.353,-0.485Z"]}, "legend": null}}}
   ]},
  {"data": {"name": "leg"}, "transform": [{"filter": "datum.p === 'd'"}],
   "encoding": {"y": {"field": "s", "type": "nominal", "scale": {"type": "point", "padding": 0, "domain": ["C1","C1x","C2","C3","C4"], "range": [104.3, 179]}, "axis": null}},
   "layer": [
    {"mark": {"type": "text", "align": "left"}, "encoding": {"x": {"datum": -2.7}, "text": {"field": "label"}}},
    {"mark": {"type": "point", "filled": true, "opacity": 1, "size": 45}, "encoding": {"x": {"datum": 18.7},
      "color": {"field": "s", "type": "nominal", "scale": {"domain": ["C0","C1","C2","C3","C4"], "range": ["#000000","#FF0000","#0000FF","#008000","#FF9326"]}, "legend": null},
      "shape": {"field": "s", "type": "nominal", "scale": {"domain": ["C0","C1","C2","C3","C4"], "range": ["square","circle","diamond","M0,-1.05L1,-0.32L0.62,0.85L-0.62,0.85L-1,-0.32Z","M0,-1.5L0.353,-0.485L1.427,-0.464L0.571,0.185L0.882,1.214L0,0.6L-0.882,1.214L-0.571,0.185L-1.427,-0.464L-0.353,-0.485Z"]}, "legend": null}}},
    {"mark": {"type": "text", "align": "left", "text": "Test values"}, "encoding": {"x": {"datum": 24.7}}},
    {"transform": [{"filter": "datum.s === 'C1'"}], "mark": {"type": "rule", "yOffset": 18, "strokeWidth": 1.5}, "encoding": {"x": {"datum": 14.7}, "x2": {"datum": 24.7}, "color": {"field": "s", "type": "nominal", "scale": {"domain": ["C0","C1","C2","C3","C4"], "range": ["#000000","#FF0000","#0000FF","#008000","#FF9326"]}, "legend": null}}},
    {"transform": [{"filter": "datum.s === 'C1'"}], "mark": {"type": "text", "align": "left", "text": "Calculated values", "yOffset": 18}, "encoding": {"x": {"datum": 25.7}}},
    {"transform": [{"filter": "datum.s !== 'C1'"}], "mark": {"type": "rule", "strokeWidth": 1.5}, "encoding": {"x": {"datum": 46.4}, "x2": {"datum": 56.4}, "color": {"field": "s", "type": "nominal", "scale": {"domain": ["C0","C1","C2","C3","C4"], "range": ["#000000","#FF0000","#0000FF","#008000","#FF9326"]}, "legend": null}}},
    {"transform": [{"filter": "datum.s !== 'C1'"}], "mark": {"type": "text", "align": "left", "text": "Calculated values"}, "encoding": {"x": {"datum": 57.7}}}
   ]}
 ]}
]},
{"spacing": 28, "hconcat": [
{"width": 293, "height": 188.5, "title": {"text": "(e)"}, "resolve": {"scale": {"y": "independent"}},
 "layer": [
  {"encoding": {
     "x": {"field": "n", "type": "quantitative", "scale": {"domain": [-5, 105], "nice": false, "zero": false}, "axis": {"values": [0, 12.5, 25, 37.5, 50, 62.5, 75, 87.5, 100], "labelExpr": "datum.value % 25 === 0 ? datum.label : ''", "tickSize": {"condition": {"test": "datum.value % 25 !== 0", "value": -2}, "value": -4}, "gridOpacity": {"condition": {"test": "datum.value % 25 !== 0", "value": 0}, "value": 1}, "title": "Freeze-thaw cycles"}},
     "y": {"field": "f", "type": "quantitative", "scale": {"domain": [75, 102.5], "nice": false, "zero": false}, "axis": {"values": [75, 77.5, 80, 82.5, 85, 87.5, 90, 92.5, 95, 97.5, 100], "labelExpr": "datum.value % 5 === 0 ? datum.label : ''", "tickSize": {"condition": {"test": "datum.value % 5 !== 0", "value": -2}, "value": -4}, "gridOpacity": {"condition": {"test": "datum.value % 5 !== 0", "value": 0}, "value": 1}, "title": "Fₙ ( % )"}},
     "color": {"field": "s", "type": "nominal", "scale": {"domain": ["C0","C1","C2","C3","C4"], "range": ["#000000","#FF0000","#0000FF","#008000","#FF9326"]}, "legend": null}},
   "layer": [
    {"data": {"name": "calc"}, "transform": [{"filter": "datum.p === 'e'"}], "mark": {"type": "line", "interpolate": "natural", "strokeWidth": 1.5}},
    {"data": {"name": "test"}, "transform": [{"filter": "datum.p === 'e'"}], "mark": {"type": "point", "filled": true, "opacity": 1, "size": 45},
     "encoding": {"shape": {"field": "s", "type": "nominal", "scale": {"domain": ["C0","C1","C2","C3","C4"], "range": ["square","circle","diamond","M0,-1.05L1,-0.32L0.62,0.85L-0.62,0.85L-1,-0.32Z","M0,-1.5L0.353,-0.485L1.427,-0.464L0.571,0.185L0.882,1.214L0,0.6L-0.882,1.214L-0.571,0.185L-1.427,-0.464L-0.353,-0.485Z"]}, "legend": null}}}
   ]},
  {"data": {"name": "leg"}, "transform": [{"filter": "datum.p === 'e'"}],
   "encoding": {"y": {"field": "s", "type": "nominal", "scale": {"type": "point", "padding": 0, "domain": ["C1","C1x","C2","C3","C4"], "range": [104, 178.5]}, "axis": null}},
   "layer": [
    {"mark": {"type": "text", "align": "left"}, "encoding": {"x": {"datum": -3.4}, "text": {"field": "label"}}},
    {"mark": {"type": "point", "filled": true, "opacity": 1, "size": 45}, "encoding": {"x": {"datum": 19.3},
      "color": {"field": "s", "type": "nominal", "scale": {"domain": ["C0","C1","C2","C3","C4"], "range": ["#000000","#FF0000","#0000FF","#008000","#FF9326"]}, "legend": null},
      "shape": {"field": "s", "type": "nominal", "scale": {"domain": ["C0","C1","C2","C3","C4"], "range": ["square","circle","diamond","M0,-1.05L1,-0.32L0.62,0.85L-0.62,0.85L-1,-0.32Z","M0,-1.5L0.353,-0.485L1.427,-0.464L0.571,0.185L0.882,1.214L0,0.6L-0.882,1.214L-0.571,0.185L-1.427,-0.464L-0.353,-0.485Z"]}, "legend": null}}},
    {"mark": {"type": "text", "align": "left", "text": "Test values"}, "encoding": {"x": {"datum": 25.5}}},
    {"transform": [{"filter": "datum.s === 'C1'"}], "mark": {"type": "rule", "yOffset": 18, "strokeWidth": 1.5}, "encoding": {"x": {"datum": 14.1}, "x2": {"datum": 23.8}, "color": {"field": "s", "type": "nominal", "scale": {"domain": ["C0","C1","C2","C3","C4"], "range": ["#000000","#FF0000","#0000FF","#008000","#FF9326"]}, "legend": null}}},
    {"transform": [{"filter": "datum.s === 'C1'"}], "mark": {"type": "text", "align": "left", "text": "Calculated values", "yOffset": 18}, "encoding": {"x": {"datum": 25.3}}},
    {"transform": [{"filter": "datum.s !== 'C1'"}], "mark": {"type": "rule", "strokeWidth": 1.5}, "encoding": {"x": {"datum": 45.8}, "x2": {"datum": 57.0}, "color": {"field": "s", "type": "nominal", "scale": {"domain": ["C0","C1","C2","C3","C4"], "range": ["#000000","#FF0000","#0000FF","#008000","#FF9326"]}, "legend": null}}},
    {"transform": [{"filter": "datum.s !== 'C1'"}], "mark": {"type": "text", "align": "left", "text": "Calculated values"}, "encoding": {"x": {"datum": 58.5}}}
   ]}
 ]},
{"width": 293, "height": 188.5, "title": {"text": "(f)"}, "resolve": {"scale": {"y": "independent"}},
 "layer": [
  {"encoding": {
     "x": {"field": "n", "type": "quantitative", "scale": {"domain": [-5, 105], "nice": false, "zero": false}, "axis": {"values": [0, 12.5, 25, 37.5, 50, 62.5, 75, 87.5, 100], "labelExpr": "datum.value % 25 === 0 ? datum.label : ''", "tickSize": {"condition": {"test": "datum.value % 25 !== 0", "value": -2}, "value": -4}, "gridOpacity": {"condition": {"test": "datum.value % 25 !== 0", "value": 0}, "value": 1}, "title": "Freeze-thaw cycles"}},
     "y": {"field": "f", "type": "quantitative", "scale": {"domain": [75, 102.5], "nice": false, "zero": false}, "axis": {"values": [75, 77.5, 80, 82.5, 85, 87.5, 90, 92.5, 95, 97.5, 100], "labelExpr": "datum.value % 5 === 0 ? datum.label : ''", "tickSize": {"condition": {"test": "datum.value % 5 !== 0", "value": -2}, "value": -4}, "gridOpacity": {"condition": {"test": "datum.value % 5 !== 0", "value": 0}, "value": 1}, "title": "Fₙ ( % )"}},
     "color": {"field": "s", "type": "nominal", "scale": {"domain": ["C0","C1","C2","C3","C4"], "range": ["#000000","#FF0000","#0000FF","#008000","#FF9326"]}, "legend": null}},
   "layer": [
    {"data": {"name": "calc"}, "transform": [{"filter": "datum.p === 'f'"}], "mark": {"type": "line", "interpolate": "natural", "strokeWidth": 1.5}},
    {"data": {"name": "test"}, "transform": [{"filter": "datum.p === 'f'"}], "mark": {"type": "point", "filled": true, "opacity": 1, "size": 45},
     "encoding": {"shape": {"field": "s", "type": "nominal", "scale": {"domain": ["C0","C1","C2","C3","C4"], "range": ["square","circle","diamond","M0,-1.05L1,-0.32L0.62,0.85L-0.62,0.85L-1,-0.32Z","M0,-1.5L0.353,-0.485L1.427,-0.464L0.571,0.185L0.882,1.214L0,0.6L-0.882,1.214L-0.571,0.185L-1.427,-0.464L-0.353,-0.485Z"]}, "legend": null}}}
   ]},
  {"data": {"name": "leg"}, "transform": [{"filter": "datum.p === 'f'"}],
   "encoding": {"y": {"field": "s", "type": "nominal", "scale": {"type": "point", "padding": 0, "domain": ["C1","C1x","C2","C3","C4"], "range": [107, 180]}, "axis": null}},
   "layer": [
    {"mark": {"type": "text", "align": "left"}, "encoding": {"x": {"datum": -2.7}, "text": {"field": "label"}}},
    {"mark": {"type": "point", "filled": true, "opacity": 1, "size": 45}, "encoding": {"x": {"datum": 19.9},
      "color": {"field": "s", "type": "nominal", "scale": {"domain": ["C0","C1","C2","C3","C4"], "range": ["#000000","#FF0000","#0000FF","#008000","#FF9326"]}, "legend": null},
      "shape": {"field": "s", "type": "nominal", "scale": {"domain": ["C0","C1","C2","C3","C4"], "range": ["square","circle","diamond","M0,-1.05L1,-0.32L0.62,0.85L-0.62,0.85L-1,-0.32Z","M0,-1.5L0.353,-0.485L1.427,-0.464L0.571,0.185L0.882,1.214L0,0.6L-0.882,1.214L-0.571,0.185L-1.427,-0.464L-0.353,-0.485Z"]}, "legend": null}}},
    {"mark": {"type": "text", "align": "left", "text": "Test values"}, "encoding": {"x": {"datum": 26.5}}},
    {"transform": [{"filter": "datum.s === 'C1'"}], "mark": {"type": "rule", "yOffset": 17, "strokeWidth": 1.5}, "encoding": {"x": {"datum": 14.7}, "x2": {"datum": 24.7}, "color": {"field": "s", "type": "nominal", "scale": {"domain": ["C0","C1","C2","C3","C4"], "range": ["#000000","#FF0000","#0000FF","#008000","#FF9326"]}, "legend": null}}},
    {"transform": [{"filter": "datum.s === 'C1'"}], "mark": {"type": "text", "align": "left", "text": "Calculated values", "yOffset": 17}, "encoding": {"x": {"datum": 25.9}}},
    {"transform": [{"filter": "datum.s !== 'C1'"}], "mark": {"type": "rule", "strokeWidth": 1.5}, "encoding": {"x": {"datum": 48.3}, "x2": {"datum": 58.3}, "color": {"field": "s", "type": "nominal", "scale": {"domain": ["C0","C1","C2","C3","C4"], "range": ["#000000","#FF0000","#0000FF","#008000","#FF9326"]}, "legend": null}}},
    {"transform": [{"filter": "datum.s !== 'C1'"}], "mark": {"type": "text", "align": "left", "text": "Calculated values"}, "encoding": {"x": {"datum": 59.2}}}
   ]}
 ]}
]}
]
}
